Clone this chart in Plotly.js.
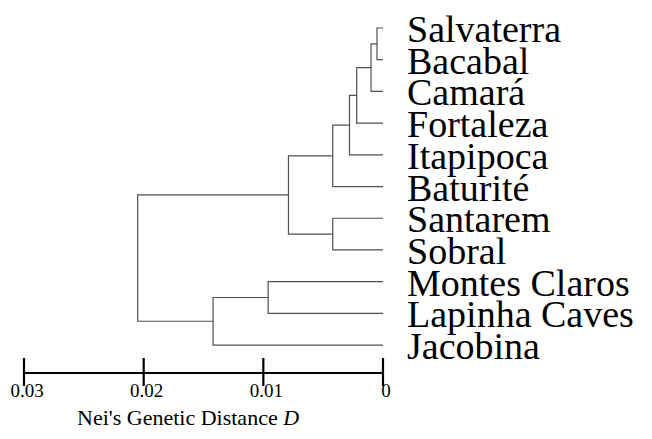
<!DOCTYPE html>
<html>
<head>
<meta charset="utf-8">
<script src="https://cdn.plot.ly/plotly-3.0.1.min.js"></script>
<style>html,body{margin:0;padding:0;background:#fff;}#chart{width:652px;height:439px;}</style>
</head>
<body>
<div id="chart"></div>
<script>
// Leaves (top to bottom)
const leaves = ['Salvaterra','Bacabal','Camará','Fortaleza','Itapipoca','Baturité','Santarem','Sobral','Montes Claros','Lapinha Caves','Jacobina'];
// Merges (linkage): cluster ids >= leaves.length refer to earlier merges
const mergeLeft   = [0, 11, 12, 13, 14, 6, 15, 8, 18, 17];
const mergeRight  = [1, 2, 3, 4, 5, 7, 16, 9, 10, 19];
const mergeHeight = [0.0005, 0.001, 0.0022, 0.0028, 0.0042, 0.0042, 0.0079, 0.0096, 0.0142, 0.0205];
// Axis ticks
const tickVals = [0.03, 0.02, 0.01, 0];
const tickText = ['0.03', '0.02', '0.01', '0'];
const axisTitle = "Nei's Genetic Distance <i>D</i>";

const yRange = [10.85, -0.505];

const nodeY = leaves.map((_, i) => i);
const nodeH = leaves.map(() => 0);
const xs = [], ys = [];
for (let k = 0; k < mergeHeight.length; k++) {
  const a = mergeLeft[k], b = mergeRight[k], h = mergeHeight[k];
  xs.push(nodeH[a], h, h, nodeH[b], null);
  ys.push(nodeY[a], nodeY[a], nodeY[b], nodeY[b], null);
  nodeY.push((nodeY[a] + nodeY[b]) / 2);
  nodeH.push(h);
}

const serif = 'Liberation Serif';
const traces = [
  {x: xs, y: ys, mode: 'lines', type: 'scatter', line: {color: '#505050', width: 1.2}, hoverinfo: 'skip', showlegend: false},
  // crossing tick marks of the scale bar
  {x: tickVals, y: tickVals.map(() => yRange[0]), mode: 'markers', type: 'scatter', cliponaxis: false,
   marker: {symbol: 'line-ns-open', size: 20, color: '#000', line: {color: '#000', width: 2.2}}, hoverinfo: 'skip', showlegend: false}
];

const annotations = leaves.map((name, i) => ({
  x: 0, y: i, xref: 'x', yref: 'y', text: name, showarrow: false,
  xanchor: 'left', yanchor: 'middle', xshift: 22, yshift: -1,
  font: {family: serif, size: 38, color: '#000'}
}));
annotations.push({
  x: 0.5, y: 0, xref: 'paper', yref: 'paper', text: axisTitle, showarrow: false,
  xanchor: 'center', yanchor: 'middle', xshift: -16, yshift: -45,
  font: {family: serif, size: 22, color: '#000'}
});

const layout = {
  width: 652, height: 439,
  margin: {l: 24, r: 269, t: 12, b: 67},
  paper_bgcolor: '#fff', plot_bgcolor: '#fff',
  font: {family: serif, size: 19, color: '#000'},
  showlegend: false,
  xaxis: {
    range: [0.03, 0], showgrid: false, zeroline: false,
    showline: true, linecolor: '#000', linewidth: 2,
    ticks: '', tickmode: 'array', tickvals: tickVals, ticktext: tickText,
    ticklabelshift: -3,
    tickfont: {family: serif, size: 19, color: '#000'}
  },
  yaxis: {
    range: yRange, showgrid: false, zeroline: false,
    showline: false, showticklabels: false, ticks: ''
  },
  annotations: annotations
};

Plotly.newPlot('chart', traces, layout, {staticPlot: true, displayModeBar: false});
</script>
</body>
</html>
